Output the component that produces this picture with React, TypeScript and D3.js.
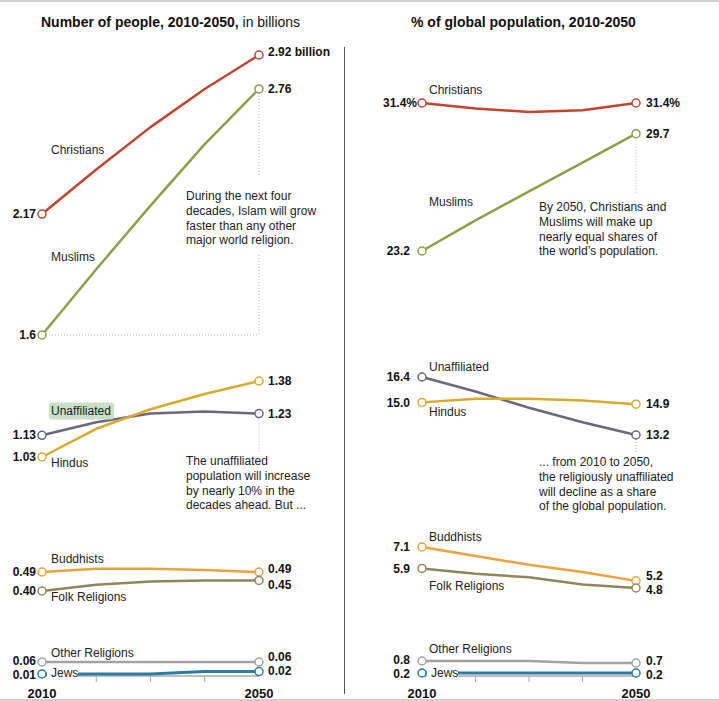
import React from "react";
import * as d3 from "d3";

// ---------- DATA ----------
const years = [2010, 2020, 2030, 2040, 2050];

// Number of people, billions
const christiansCount = [2.17, 2.38, 2.58, 2.76, 2.92];
const muslimsCount = [1.6, 1.91, 2.21, 2.5, 2.76];
const unaffiliatedCount = [1.13, 1.19, 1.23, 1.24, 1.23];
const hindusCount = [1.03, 1.16, 1.25, 1.32, 1.38];
const buddhistsCount = [0.49, 0.505, 0.505, 0.5, 0.49];
const folkCount = [0.4, 0.43, 0.445, 0.45, 0.45];
const otherCount = [0.06, 0.06, 0.06, 0.06, 0.06];
const jewsCount = [0.01, 0.01, 0.01, 0.02, 0.02];

// % of global population
const christiansShare = [31.4, 31.1, 30.9, 31.0, 31.4];
const muslimsShare = [23.2, 24.9, 26.5, 28.1, 29.7];
const unaffiliatedShare = [16.4, 15.6, 14.7, 13.9, 13.2];
const hindusShare = [15.0, 15.2, 15.2, 15.1, 14.9];
const buddhistsShare = [7.1, 6.6, 6.1, 5.7, 5.2];
const folkShare = [5.9, 5.6, 5.4, 5.0, 4.8];
const otherShare = [0.8, 0.8, 0.8, 0.7, 0.7];
const jewsShare = [0.2, 0.2, 0.2, 0.2, 0.2];

const seriesNames = ["Christians", "Muslims", "Unaffiliated", "Hindus", "Buddhists", "Folk Religions", "Other Religions", "Jews"];
const countStartLabels = ["2.17", "1.6", "1.13", "1.03", "0.49", "0.40", "0.06", "0.01"];
const countEndLabels = ["2.92 billion", "2.76", "1.23", "1.38", "0.49", "0.45", "0.06", "0.02"];
const shareStartLabels = ["31.4%", "23.2", "16.4", "15.0", "7.1", "5.9", "0.8", "0.2"];
const shareEndLabels = ["31.4%", "29.7", "13.2", "14.9", "5.2", "4.8", "0.7", "0.2"];
const axisYearLabels = ["2010", "2050"];

const countValues = [christiansCount, muslimsCount, unaffiliatedCount, hindusCount, buddhistsCount, folkCount, otherCount, jewsCount];
const shareValues = [christiansShare, muslimsShare, unaffiliatedShare, hindusShare, buddhistsShare, folkShare, otherShare, jewsShare];

const annotationLeftTop = ["During the next four", "decades, Islam will grow", "faster than any other", "major world religion."];
const annotationLeftMid = ["The unaffiliated", "population will increase", "by nearly 10% in the", "decades ahead. But ..."];
const annotationRightTop = ["By 2050, Christians and", "Muslims will make up", "nearly equal shares of", "the world\u2019s population."];
const annotationRightMid = ["... from 2010 to 2050,", "the religiously unaffiliated", "will decline as a share", "of the global population."];

// ---------- STYLES / LAYOUT ----------
const colors = ["#c4432f", "#8d9f48", "#6e6580", "#d8aa2c", "#eba23c", "#8f8759", "#a3a3a3", "#2b7ca3"];
const groupOf = [0, 0, 1, 1, 2, 2, 3, 3];
const FONT = "'Liberation Sans', Arial, Helvetica, sans-serif";

const leftX = d3.scaleLinear().domain([2010, 2050]).range([42, 259]);
const rightX = d3.scaleLinear().domain([2010, 2050]).range([422, 636]);

const leftY = [
  d3.scaleLinear().domain([1.6, 2.92]).range([335, 55]),
  d3.scaleLinear().domain([1.03, 1.38]).range([457, 381]),
  d3.scaleLinear().domain([0.4, 0.49]).range([591, 572]),
  d3.scaleLinear().domain([0.01, 0.06]).range([674, 662]),
];
const rightY = [
  d3.scaleLinear().domain([23.2, 31.4]).range([251, 103]),
  d3.scaleLinear().domain([13.2, 16.4]).range([435, 377]),
  d3.scaleLinear().domain([4.8, 7.1]).range([588, 547]),
  d3.scaleLinear().domain([0.2, 0.8]).range([673, 661]),
];

const leftNamePos = [[51, 150], [51, 257], [51, 411], [51, 463], [51, 559], [51, 597], [51, 653], [51, 673]];
const rightNamePos = [[429, 90], [429, 202], [429, 367], [429, 412], [429, 537], [429, 586], [429, 649], [431, 673]];
const leftEndNudge = [-3, 0, 0, 0, -3, 4, -5, -1];
const leftStartNudge = [0, 0, 0, 0, 0, 0, -1, 1];
const rightEndNudge = [0, 0, 0, 0, -5, 2, -2, 2];
const rightStartNudge = [0, 0, 0, 0, 0, 0, -1, 1];
const rightStartAnchor = [417, 410, 410, 410, 410, 410, 410, 410];

type PanelProps = {
  x: d3.ScaleLinear<number, number>;
  ys: d3.ScaleLinear<number, number>[];
  values: number[][];
  startLabels: string[];
  endLabels: string[];
  namePos: number[][];
  startAnchor: number[];
  startNudge: number[];
  endNudge: number[];
  endX: number;
};

function Panel(p: PanelProps) {
  const lineGen = (ys: d3.ScaleLinear<number, number>) =>
    d3
      .line<number>()
      .x((_, i) => p.x(years[i]))
      .y((v) => ys(v))
      .curve(d3.curveLinear);
  const x0 = p.x(years[0]);
  const x1 = p.x(years[years.length - 1]);
  const axisY = 676;
  return (
    <g>
      {/* axis */}
      <line x1={x0} x2={x1} y1={axisY} y2={axisY} stroke="#a9a9a9" strokeWidth={1.5} />
      {years.slice(1, -1).map((yr) => (
        <line key={yr} x1={p.x(yr)} x2={p.x(yr)} y1={axisY} y2={axisY + 6} stroke="#a9a9a9" strokeWidth={1} />
      ))}
      {axisYearLabels.map((t, i) => (
        <text key={t} x={i === 0 ? x0 : x1} y={693} dy="0.35em" textAnchor="middle" fontWeight="bold" fontSize={13} fill="#111">
          {t}
        </text>
      ))}
      {/* lines */}
      {p.values.map((vals, s) => (
        <path key={s} d={lineGen(p.ys[groupOf[s]])(vals) || ""} fill="none" stroke={colors[s]} strokeWidth={s === 7 ? 3 : 2.5} strokeLinejoin="round" />
      ))}
      {/* name labels */}
      {seriesNames.map((n, s) => {
        const [nx, ny] = p.namePos[s];
        return (
          <g key={n}>
            {n === "Jews" && <rect x={nx - 4} y={ny - 8} width={31} height={15} fill="#fff" />}
            {n === "Unaffiliated" && p.endX < 400 && (
              <rect x={nx - 2} y={ny - 8.5} width={65} height={17} rx={3} fill="#c9dfc6" />
            )}
            <text x={nx} y={ny} dy="0.35em" fontSize={12} fill="#222">
              {n}
            </text>
          </g>
        );
      })}
      {/* start / end value labels */}
      {p.values.map((vals, s) => {
        const ys = p.ys[groupOf[s]];
        return (
          <g key={"v" + s}>
            <text x={p.startAnchor[s]} y={ys(vals[0]) + p.startNudge[s]} dy="0.35em" textAnchor="end" fontWeight="bold" fontSize={12} fill="#111">
              {p.startLabels[s]}
            </text>
            <text x={p.endX} y={ys(vals[vals.length - 1]) + p.endNudge[s]} dy="0.35em" fontWeight="bold" fontSize={12} fill="#111">
              {p.endLabels[s]}
            </text>
          </g>
        );
      })}
      {/* circles */}
      {p.values.map((vals, s) => {
        const ys = p.ys[groupOf[s]];
        return [0, vals.length - 1].map((i) => (
          <circle key={s + "-" + i} cx={p.x(years[i])} cy={ys(vals[i])} r={4} fill="#fff" stroke={colors[s]} strokeWidth={1.5} />
        ));
      })}
    </g>
  );
}

function Annotation({ x, y, lines }: { x: number; y: number; lines: string[] }) {
  return (
    <text x={x} y={y} fontSize={12} fill="#222">
      {lines.map((l, i) => (
        <tspan key={i} x={x} dy={i === 0 ? 0 : 14.8}>
          {l}
        </tspan>
      ))}
    </text>
  );
}

export default function App() {
  const dot = { stroke: "#b5b5b5", strokeWidth: 1, strokeDasharray: "1,2" };
  const lY = leftY[0];
  const rY = rightY[0];
  return (
    <svg width={719} height={701} style={{ position: "absolute", left: 0, top: 0, background: "#fff" }} fontFamily={FONT}>
      <rect x={0} y={0} width={719} height={701} fill="#fff" />
      <line x1={0} x2={719} y1={1} y2={1} stroke="#cfcfcf" strokeWidth={2} />
      <line x1={0} x2={719} y1={700} y2={700} stroke="#cfcfcf" strokeWidth={2} />
      <line x1={344.5} x2={344.5} y1={47} y2={694} stroke="#555" strokeWidth={1} />

      {/* titles */}
      <text x={41} y={27} fontSize={14} fill="#111">
        <tspan fontWeight="bold">Number of people, 2010-2050,</tspan>
        <tspan> in billions</tspan>
      </text>
      <text x={411} y={27} fontSize={14} fontWeight="bold" fill="#111">
        % of global population, 2010-2050
      </text>

      {/* dotted guides */}
      <line x1={leftX(2010) + 4} x2={leftX(2050)} y1={lY(muslimsCount[0])} y2={lY(muslimsCount[0])} {...dot} />
      <line x1={leftX(2050)} x2={leftX(2050)} y1={lY(muslimsCount[4]) + 4} y2={lY(muslimsCount[0])} {...dot} />
      <line x1={leftX(2050)} x2={leftX(2050)} y1={leftY[1](unaffiliatedCount[4]) + 4} y2={452} {...dot} />
      <line x1={rightX(2050)} x2={rightX(2050)} y1={rY(muslimsShare[4]) + 4} y2={193} {...dot} />
      <line x1={rightX(2050)} x2={rightX(2050)} y1={rightY[1](unaffiliatedShare[4]) + 4} y2={452} {...dot} />

      <rect x={183} y={176} width={140} height={78} fill="#fff" />

      <Panel
        x={leftX}
        ys={leftY}
        values={countValues}
        startLabels={countStartLabels}
        endLabels={countEndLabels}
        namePos={leftNamePos}
        startAnchor={[36, 36, 36, 36, 36, 36, 36, 36]}
        startNudge={leftStartNudge}
        endNudge={leftEndNudge}
        endX={268}
      />
      <Panel
        x={rightX}
        ys={rightY}
        values={shareValues}
        startLabels={shareStartLabels}
        endLabels={shareEndLabels}
        namePos={rightNamePos}
        startAnchor={rightStartAnchor}
        startNudge={rightStartNudge}
        endNudge={rightEndNudge}
        endX={646}
      />

      <Annotation x={186} y={200} lines={annotationLeftTop} />
      <Annotation x={186} y={465} lines={annotationLeftMid} />
      <Annotation x={539} y={211} lines={annotationRightTop} />
      <Annotation x={539} y={466} lines={annotationRightMid} />
    </svg>
  );
}
